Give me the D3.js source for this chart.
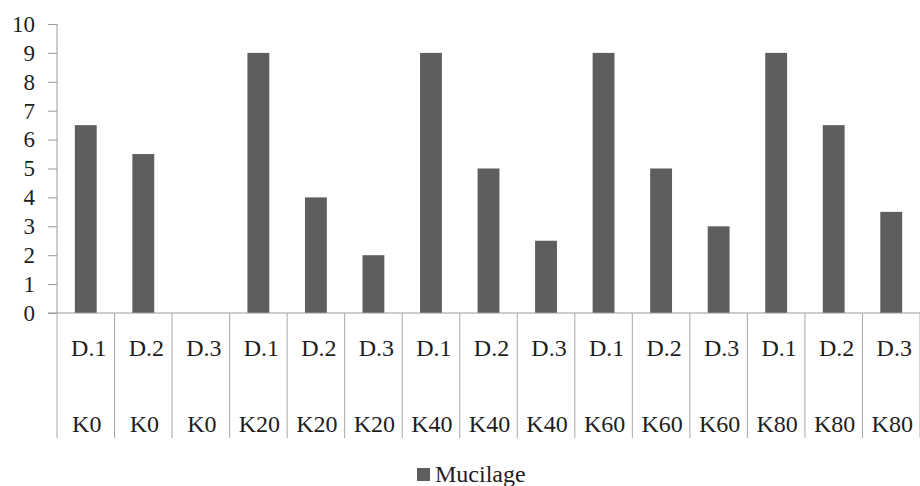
<!DOCTYPE html>
<html>
<head>
<meta charset="utf-8">
<script src="https://cdn.jsdelivr.net/npm/d3@7"></script>
<style>
  html, body { margin: 0; padding: 0; background: #fff; }
  svg { display: block; }
</style>
</head>
<body>
<svg id="chart" width="920" height="486"></svg>
<script>
// Mucilage score per treatment (dose K, date D)
const doses = ["K0", "K0", "K0", "K20", "K20", "K20", "K40", "K40", "K40", "K60", "K60", "K60", "K80", "K80", "K80"];
const dates = ["D.1", "D.2", "D.3", "D.1", "D.2", "D.3", "D.1", "D.2", "D.3", "D.1", "D.2", "D.3", "D.1", "D.2", "D.3"];
const mucilage = [6.5, 5.5, 0, 9, 4, 2, 9, 5, 2.5, 9, 5, 3, 9, 6.5, 3.5];
const yTicks = [0, 1, 2, 3, 4, 5, 6, 7, 8, 9, 10];
const seriesName = "Mucilage";

const rows = mucilage.map((v, i) => ({ i, dose: doses[i], date: dates[i], value: v }));

const svg = d3.select("#chart");
const plotLeft = 57, plotRight = 920, plotTop = 24, plotBottom = 313;
const serif = "Liberation Serif, DejaVu Serif, serif";
const ink = "#1e1e1e";

const x = d3.scaleBand().domain(rows.map(d => d.i)).range([plotLeft, plotRight]).padding(0);
const y = d3.scaleLinear().domain([0, 10]).range([plotBottom, plotTop]);
const barW = x.bandwidth() * 0.38;

// bars
svg.append("g").selectAll("rect").data(rows).join("rect")
  .attr("x", d => x(d.i) + (x.bandwidth() - barW) / 2)
  .attr("y", d => y(d.value))
  .attr("width", barW)
  .attr("height", d => y(0) - y(d.value))
  .attr("fill", "#5e5e5e");

// y axis
const yAxis = svg.append("g").attr("transform", `translate(${plotLeft},0)`)
  .call(d3.axisLeft(y).tickValues(yTicks).tickSize(9).tickPadding(13).tickFormat(d3.format("d")));
yAxis.attr("font-family", serif).attr("font-size", 23);
yAxis.select(".domain").attr("stroke", "#9a9a9a").attr("d", `M0,${plotTop}V${plotBottom}`);
yAxis.selectAll(".tick line").attr("stroke", "#9a9a9a");
yAxis.selectAll(".tick text").attr("fill", ink);

// category axis: baseline, separators and two label rows
const cat = svg.append("g").attr("font-family", serif).attr("font-size", 24).attr("fill", ink);
cat.append("line").attr("x1", plotLeft - 9).attr("x2", plotRight).attr("y1", plotBottom).attr("y2", plotBottom)
  .attr("stroke", "#9a9a9a");
const seps = d3.range(rows.length + 1).map(k => k < rows.length ? x(k) : plotRight);
cat.selectAll("line.sep").data(seps).join("line").attr("class", "sep")
  .attr("x1", d => d).attr("x2", d => d).attr("y1", plotBottom).attr("y2", 438)
  .attr("stroke", "#a8a8a8");
cat.selectAll("text.date").data(rows).join("text").attr("class", "date")
  .attr("x", d => x(d.i) + x.bandwidth() / 2 + 3)
  .attr("y", 356)
  .attr("text-anchor", "middle")
  .text(d => d.date);
cat.selectAll("text.dose").data(rows).join("text").attr("class", "dose")
  .attr("x", d => x(d.i) + x.bandwidth() / 2 + 1)
  .attr("y", 432)
  .attr("text-anchor", "middle")
  .text(d => d.dose);

// legend
const lg = svg.append("g").attr("font-family", serif).attr("font-size", 24).attr("fill", ink);
lg.append("rect").attr("x", 417).attr("y", 468).attr("width", 13).attr("height", 13).attr("fill", "#5e5e5e");
lg.append("text").attr("x", 435).attr("y", 482).text(seriesName);
</script>
</body>
</html>
